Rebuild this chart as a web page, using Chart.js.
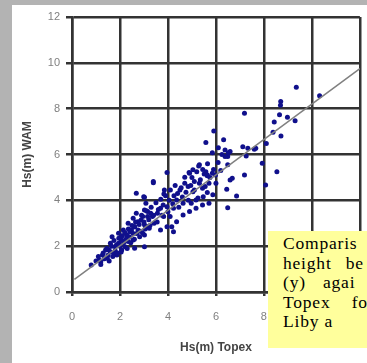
<!DOCTYPE html>
<html>
<head>
<meta charset="utf-8">
<script src="https://cdn.jsdelivr.net/npm/chart.js@4"></script>
<style>
  html, body { margin: 0; padding: 0; width: 367px; height: 363px; overflow: hidden; background: #b3b3b3; }
  #panel { position: absolute; left: 12px; top: 5px; width: 360px; height: 360px; background: #fff; }
  #chart { position: absolute; left: 0; top: 0; filter: blur(0.5px); }
  #note {
    position: absolute; left: 268px; top: 231px; width: 110px; height: 117px;
    background: #ffff9c; color: #000; box-sizing: border-box; padding: 3px 0 0 15px;
    font-family: "Liberation Serif", serif; font-size: 17.5px; line-height: 19.5px;
    letter-spacing: 0.8px; white-space: nowrap; overflow: hidden;
  }
</style>
</head>
<body>
<div id="panel"></div>
<canvas id="chart" width="380" height="363"></canvas>
<div id="note">
  <div>Comparis</div>
  <div style="word-spacing:9px">height be</div>
  <div style="word-spacing:12px">(y) agai</div>
  <div style="word-spacing:16px">Topex fo</div>
  <div>Liby a</div>
</div>
<script>
// Hs (m) from Topex (x) and from WAM (y)
const topexHs = [
  9.35, 10.32, 8.70, 8.69, 8.65, 8.98, 9.30, 8.43, 8.38, 8.71, 8.10, 7.66, 7.19, 7.93, 8.54,
  5.91, 5.58, 6.32, 6.38, 6.59, 7.12, 7.33, 5.85, 6.49, 7.26, 5.31, 5.64, 5.51, 5.98, 7.19,
  6.59, 6.68, 8.07, 6.45, 6.86, 6.49, 6.09, 6.49, 5.04, 4.88, 7.60, 6.38, 6.52,
  3.96, 3.39, 2.68, 2.99, 3.85, 3.83, 4.70, 4.90, 5.28, 5.58, 5.10, 5.31, 4.84, 4.50, 5.04,
  5.44, 5.64, 5.85, 5.71, 5.64, 5.87, 5.47, 5.17, 4.97, 4.63, 4.36, 4.23, 3.96, 3.69, 3.56,
  3.35, 3.15, 2.95, 2.75, 2.61, 2.48, 3.15, 3.42, 4.09, 4.36, 4.63, 4.90, 5.17, 5.44, 5.71,
  3.69, 3.96, 4.23, 3.02, 2.34,
  0.80, 1.20, 1.27, 1.47, 1.54, 1.74, 1.80, 1.94, 2.07, 2.21, 2.28, 2.41, 2.61, 2.75, 2.88,
  3.02, 3.15, 3.28, 3.08, 3.02, 2.68, 2.55, 2.34, 2.14, 1.94, 1.67, 1.60, 1.40, 1.87, 2.07,
  2.34, 2.55, 2.82, 2.95, 3.22, 2.61, 3.02, 1.13,
  3.39, 3.02, 3.82, 4.16,
  1.00, 1.10, 1.20, 1.30, 1.35, 1.45, 1.50, 1.55, 1.60, 1.65, 1.70, 1.75, 1.80, 1.85, 1.90,
  1.95, 2.00, 2.05, 2.10, 2.15, 2.20, 2.25, 2.30, 2.35, 2.40, 2.45, 2.50, 2.55, 2.60, 2.65,
  2.70, 2.80, 2.85, 2.90, 3.00, 3.05, 3.10, 3.20, 3.25, 3.30, 3.40, 3.50, 3.55, 3.60, 3.70,
  3.75, 3.80, 3.90, 4.00, 4.05, 4.10, 4.20, 4.25, 4.30, 4.40, 4.45, 4.55, 4.60, 4.70, 4.75,
  4.85, 4.95, 5.00, 5.10, 5.20, 5.25, 5.35, 5.45, 5.55, 5.65, 5.75, 5.90, 6.00, 6.10, 6.20, 6.25
];
const wamHs = [
  8.94, 8.56, 8.31, 8.15, 7.73, 7.63, 7.47, 7.42, 6.97, 6.81, 6.48, 6.27, 7.80, 5.62, 5.25,
  7.03, 6.52, 6.64, 6.20, 6.13, 6.34, 6.27, 6.08, 5.91, 5.94, 5.55, 5.07, 5.15, 5.11, 5.11,
  4.89, 4.96, 4.67, 4.48, 4.19, 3.68, 5.65, 5.55, 5.33, 5.21, 6.23, 5.91, 6.08,
  5.21, 4.77, 4.31, 4.16, 4.45, 4.28, 5.01, 5.18, 5.50, 5.25, 4.82, 4.75, 4.60, 4.45, 4.38,
  4.53, 5.11, 5.18, 4.75, 4.34, 4.24, 4.16, 4.02, 3.87, 3.87, 4.02, 3.66, 3.72, 3.66, 3.44,
  3.29, 3.51, 3.29, 3.07, 2.85, 2.71, 2.85, 3.00, 3.29, 3.07, 3.36, 3.51, 3.66, 3.80, 3.87,
  2.71, 2.85, 2.63, 2.49, 2.41,
  1.18, 1.32, 1.62, 1.47, 1.83, 1.69, 1.98, 2.13, 2.27, 1.98, 2.49, 2.63, 2.85, 2.71, 3.14,
  2.93, 3.29, 3.44, 3.87, 3.58, 3.44, 3.22, 3.00, 2.71, 2.56, 2.41, 2.13, 1.83, 1.62, 1.83,
  2.20, 2.27, 2.41, 2.56, 2.78, 1.91, 1.98, 1.40,
  4.82, 4.13, 3.29, 2.85,
  1.35, 1.55, 1.20, 1.70, 1.45, 1.90, 1.60, 1.35, 1.75, 2.00, 1.55, 2.25, 1.80, 2.05, 1.70,
  2.35, 2.00, 1.75, 2.45, 2.15, 2.60, 2.30, 1.90, 2.75, 2.40, 2.15, 2.90, 2.55, 2.30, 3.05,
  2.55, 2.95, 2.65, 3.35, 3.05, 2.75, 3.55, 3.15, 2.90, 3.70, 3.35, 3.90, 3.05, 3.60, 4.05,
  3.35, 3.80, 4.20, 3.50, 4.00, 4.45, 3.85, 4.20, 4.65, 4.30, 3.70, 4.55, 4.15, 4.75, 4.35,
  4.00, 4.65, 5.00, 4.45, 5.25, 4.10, 4.90, 5.35, 4.60, 5.60, 5.00, 5.35, 4.75, 6.30, 5.30, 6.00
];
// straight fit line drawn on the chart
const fitX = [0.1, 12];
const fitY = [0.55, 9.75];
const axisTitles = ["Hs(m) Topex", "Hs(m) WAM"];

const points = topexHs.map((x, i) => ({ x: x, y: wamHs[i] }));
const fitLine = fitX.map((x, i) => ({ x: x, y: fitY[i] }));

const gridColor = "#333";
const tickFont = { family: "Arial, 'Liberation Sans', sans-serif", size: 11 };
const titleFont = { family: "Arial, 'Liberation Sans', sans-serif", size: 12, weight: "bold" };

new Chart(document.getElementById("chart").getContext("2d"), {
  type: "scatter",
  data: {
    datasets: [
      {
        type: "line",
        data: fitLine,
        borderColor: "#808080",
        borderWidth: 1.5,
        pointRadius: 0,
        order: 0,
      },
      {
        data: points,
        backgroundColor: "#10108c",
        borderWidth: 0,
        pointStyle: "circle",
        pointRadius: 2.5,
        order: 1,
      },
    ],
  },
  options: {
    responsive: false,
    animation: false,
    layout: { padding: { left: 16, top: 17, right: 11, bottom: 5 } },
    plugins: { legend: { display: false }, tooltip: { enabled: false } },
    scales: {
      x: {
        type: "linear",
        min: 0,
        max: 12,
        afterFit: (scale) => { scale.height = 66; },
        ticks: { stepSize: 2, color: "#808080", font: tickFont, padding: 14, maxRotation: 0 },
        grid: { color: gridColor, lineWidth: 2.5, tickLength: 4 },
        border: { color: gridColor, width: 2.5 },
        title: { display: true, text: axisTitles[0], color: "#444", font: titleFont, padding: { top: 4, bottom: 3 } },
      },
      y: {
        type: "linear",
        min: 0,
        max: 12,
        afterFit: (scale) => { scale.width = 56; },
        ticks: { stepSize: 2, color: "#808080", font: tickFont, padding: 6 },
        grid: { color: gridColor, lineWidth: 2.5, tickLength: 6 },
        border: { color: gridColor, width: 2.5 },
        title: { display: true, text: axisTitles[1], color: "#444", font: titleFont, padding: { top: 4, bottom: 4 } },
      },
    },
  },
});
</script>
</body>
</html>
